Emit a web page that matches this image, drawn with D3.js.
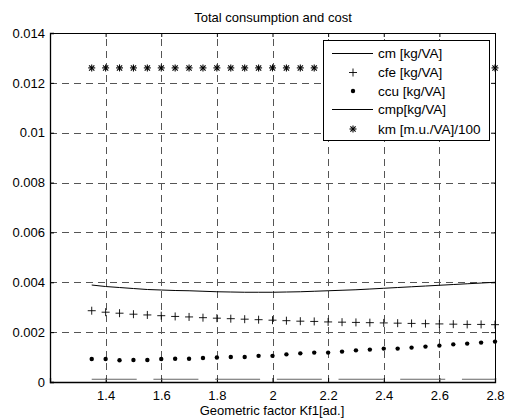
<!DOCTYPE html>
<html>
<head>
<meta charset="utf-8">
<script src="https://cdn.jsdelivr.net/npm/d3@7"></script>
<style>
  body { margin: 0; background: #fff; }
  svg { display: block; font-family: "Liberation Sans", Arial, sans-serif; }
</style>
</head>
<body>
<svg id="chart" width="512" height="419"></svg>
<script>
// DATA
const kf1 = [1.35, 1.40, 1.45, 1.50, 1.55, 1.60, 1.65, 1.70, 1.75, 1.80,
             1.85, 1.90, 1.95, 2.00, 2.05, 2.10, 2.15, 2.20, 2.25, 2.30,
             2.35, 2.40, 2.45, 2.50, 2.55, 2.60, 2.65, 2.70, 2.75, 2.80];
const cm  = [3.89, 3.83, 3.79, 3.75, 3.71, 3.69, 3.67, 3.66, 3.64, 3.62,
             3.61, 3.60, 3.60, 3.60, 3.61, 3.62, 3.64, 3.66, 3.68, 3.70,
             3.73, 3.76, 3.79, 3.82, 3.85, 3.88, 3.91, 3.94, 3.97, 4.00].map(v => v / 1000);
const cfe = [2.86, 2.80, 2.76, 2.72, 2.69, 2.66, 2.63, 2.61, 2.58, 2.56,
             2.54, 2.52, 2.50, 2.48, 2.46, 2.44, 2.43, 2.41, 2.40, 2.39,
             2.38, 2.37, 2.36, 2.35, 2.34, 2.33, 2.32, 2.31, 2.31, 2.30].map(v => v / 1000);
const ccu = [0.92, 0.92, 0.87, 0.88, 0.88, 0.92, 0.93, 0.93, 0.96, 0.98,
             1.00, 1.00, 1.05, 1.05, 1.11, 1.15, 1.18, 1.18, 1.22, 1.27,
             1.30, 1.34, 1.34, 1.38, 1.42, 1.46, 1.51, 1.54, 1.58, 1.62].map(v => v / 1000);
const cmp = [0.11, 0.11, 0.11, 0.11, 0.11, 0.11, 0.11, 0.11, 0.11, 0.11,
             0.11, 0.11, 0.11, 0.11, 0.11, 0.11, 0.11, 0.11, 0.11, 0.11,
             0.11, 0.11, 0.11, 0.11, 0.11, 0.11, 0.11, 0.11, 0.11, 0.11].map(v => v / 1000);
const km  = [12.6, 12.6, 12.6, 12.6, 12.6, 12.6, 12.6, 12.6, 12.6, 12.6,
             12.6, 12.6, 12.6, 12.6, 12.6, 12.6, 12.6, 12.6, 12.6, 12.6,
             12.6, 12.6, 12.6, 12.6, 12.6, 12.6, 12.6, 12.6, 12.6, 12.6].map(v => v / 1000);

const xTicks = [1.4, 1.6, 1.8, 2.0, 2.2, 2.4, 2.6, 2.8];
const yTicks = [0, 0.002, 0.004, 0.006, 0.008, 0.01, 0.012, 0.014];
const legendLabels = ['cm [kg/VA]', 'cfe [kg/VA]', 'ccu [kg/VA]', 'cmp[kg/VA]', 'km [m.u./VA]/100'];

const svg = d3.select('#chart');
const L = 50, R = 495, T = 33, B = 382;
const FS = '13px';

const x = d3.scaleLinear().domain([1.2, 2.8]).range([L, R]);
const y = d3.scaleLinear().domain([0, 0.014]).range([B, T]);

// grid
const grid = svg.append('g').attr('stroke', '#555').attr('stroke-width', 1)
    .attr('stroke-dasharray', '7,5').attr('fill', 'none');
grid.selectAll('.gx').data(xTicks).enter().append('line')
    .attr('x1', d => Math.round(x(d)) + 0.5).attr('x2', d => Math.round(x(d)) + 0.5)
    .attr('y1', B).attr('y2', T);
grid.selectAll('.gy').data(yTicks).enter().append('line')
    .attr('y1', d => Math.round(y(d)) + 0.5).attr('y2', d => Math.round(y(d)) + 0.5)
    .attr('x1', L).attr('x2', R);

// axes (ticks inward, box)
const fmt = d => d === 0 ? '0' : String(+d.toFixed(3));
const axB = svg.append('g').attr('transform', `translate(0,${B})`)
    .call(d3.axisBottom(x).tickValues(xTicks).tickSize(-4).tickPadding(9).tickFormat(d => String(+d.toFixed(1))));
const axT = svg.append('g').attr('transform', `translate(0,${T})`)
    .call(d3.axisTop(x).tickValues(xTicks).tickSize(-4).tickFormat(''));
const axL = svg.append('g').attr('transform', `translate(${L},0)`)
    .call(d3.axisLeft(y).tickValues(yTicks).tickSize(-4).tickPadding(5).tickFormat(fmt));
const axR = svg.append('g').attr('transform', `translate(${R},0)`)
    .call(d3.axisRight(y).tickValues(yTicks).tickSize(-4).tickFormat(''));
[axB, axT, axL, axR].forEach(a => {
    a.selectAll('path, line').attr('stroke', '#000');
    a.selectAll('text').attr('fill', '#000').style('font-size', FS)
        .style('font-family', '"Liberation Sans", Arial, sans-serif');
});
axB.selectAll('.domain').attr('stroke-width', 1.3);
axL.selectAll('.domain').attr('stroke-width', 1.3);

const pts = (vals) => kf1.map((k, i) => [k, vals[i]]);
const line = d3.line().x(d => x(d[0])).y(d => y(d[1]));

// cm line
svg.append('path').datum(pts(cm)).attr('d', line)
    .attr('fill', 'none').attr('stroke', '#000').attr('stroke-width', 1);
// cmp line
svg.append('path').datum(pts(cmp)).attr('d', line)
    .attr('fill', 'none').attr('stroke', '#666').attr('stroke-width', 1.2)
    .attr('stroke-dasharray', '45,16.7');

// markers
function plus(g, s) {
    g.append('line').attr('x1', -s).attr('x2', s).attr('y1', 0).attr('y2', 0);
    g.append('line').attr('y1', -s).attr('y2', s).attr('x1', 0).attr('x2', 0);
}
function star(g, s) {
    plus(g, s);
    const d = s * 0.75;
    g.append('line').attr('x1', -d).attr('x2', d).attr('y1', -d).attr('y2', d);
    g.append('line').attr('x1', -d).attr('x2', d).attr('y1', d).attr('y2', -d);
}

svg.append('g').selectAll('g').data(pts(cfe)).enter().append('g')
    .attr('transform', d => `translate(${x(d[0])},${y(d[1])})`)
    .attr('stroke', '#000').attr('stroke-width', 0.9)
    .each(function() { plus(d3.select(this), 4); });

svg.append('g').selectAll('circle').data(pts(ccu)).enter().append('circle')
    .attr('cx', d => x(d[0])).attr('cy', d => y(d[1])).attr('r', 2.2).attr('fill', '#000');

svg.append('g').selectAll('g').data(pts(km)).enter().append('g')
    .attr('transform', d => `translate(${x(d[0])},${y(d[1])})`)
    .attr('stroke', '#000').attr('stroke-width', 1.1)
    .each(function() { star(d3.select(this), 3.5); });

// legend
const lg = svg.append('g');
lg.append('rect').attr('x', 323.5).attr('y', 40.5).attr('width', 166).attr('height', 100)
    .attr('fill', '#fff').attr('stroke', '#000').attr('stroke-width', 1);
const rowY = [53.5, 72.5, 91, 109.5, 129];
legendLabels.forEach((t, i) => {
    const g = lg.append('g').attr('transform', `translate(0,${rowY[i]})`);
    if (i === 0 || i === 3) {
        g.append('line').attr('x1', 332).attr('x2', 373).attr('y1', 0).attr('y2', 0)
            .attr('stroke', '#000').attr('stroke-width', 1);
    } else if (i === 1) {
        const m = g.append('g').attr('transform', 'translate(353,0)').attr('stroke', '#000').attr('stroke-width', 0.9);
        plus(m, 4);
    } else if (i === 2) {
        g.append('circle').attr('cx', 353).attr('cy', 0).attr('r', 2.2).attr('fill', '#000');
    } else {
        const m = g.append('g').attr('transform', 'translate(353,0)').attr('stroke', '#000').attr('stroke-width', 1.1);
        star(m, 3.5);
    }
    g.append('text').attr('x', 378).attr('y', 4.5).text(t).style('font-size', '13.5px').attr('fill', '#000');
});

// titles
svg.append('text').attr('x', 273).attr('y', 22).attr('text-anchor', 'middle')
    .style('font-size', FS).text('Total consumption and cost');
svg.append('text').attr('x', 272).attr('y', 415).attr('text-anchor', 'middle')
    .style('font-size', FS).text('Geometric factor Kf1[ad.]');
</script>
</body>
</html>
